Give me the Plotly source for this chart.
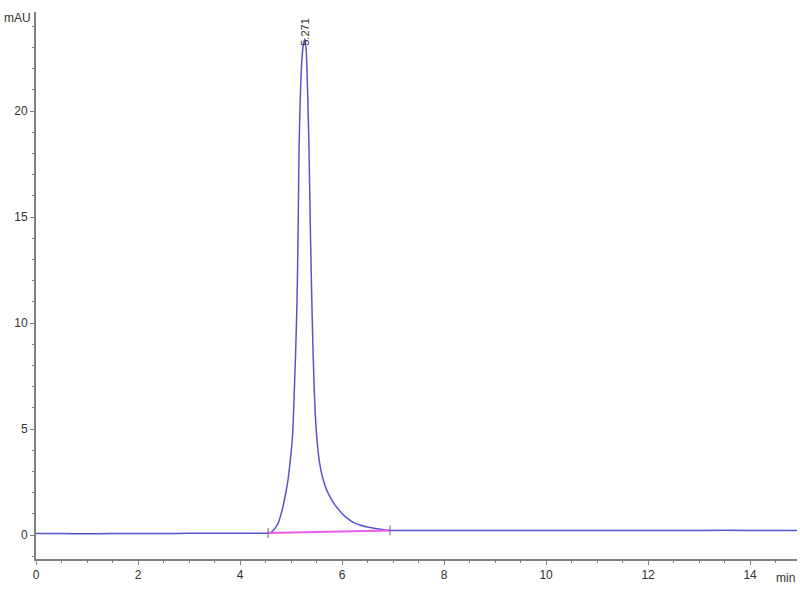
import plotly.graph_objects as go

# Chromatogram trace (retention time in min, absorbance in mAU)
time_min = [0.00, 0.50, 1.00, 1.50, 2.00, 2.50, 3.00, 3.50, 4.00, 4.30, 4.50, 4.55, 4.60, 4.63,
            4.68, 4.75, 4.80, 4.84, 4.89, 4.94, 4.98, 5.01, 5.033, 5.06, 5.09, 5.118, 5.14,
            5.157, 5.18, 5.21, 5.24, 5.271, 5.29, 5.31, 5.333, 5.353, 5.375, 5.395, 5.415,
            5.435, 5.455, 5.475, 5.50, 5.53, 5.56, 5.60, 5.65, 5.70, 5.76, 5.83, 5.90, 6.00,
            6.10, 6.22, 6.35, 6.47, 6.60, 6.75, 6.94, 7.20, 8.00, 9.00, 10.00, 11.00, 12.00,
            13.00, 14.00, 14.92]
absorb_mau = [0.07, 0.07, 0.06, 0.07, 0.07, 0.07, 0.08, 0.08, 0.08, 0.08, 0.09, 0.10, 0.12, 0.16,
              0.30, 0.57, 0.95, 1.32, 1.90, 2.59, 3.40, 4.10, 4.80, 6.50, 8.60, 11.08, 14.50,
              18.16, 20.50, 22.30, 23.10, 23.40, 23.10, 22.20, 20.20, 18.16, 15.00, 12.50, 10.30,
              8.40, 6.90, 5.75, 4.75, 3.95, 3.40, 2.90, 2.45, 2.12, 1.82, 1.53, 1.30, 1.02,
              0.80, 0.60, 0.47, 0.39, 0.33, 0.27, 0.22, 0.21, 0.21, 0.21, 0.22, 0.21, 0.21,
              0.22, 0.22, 0.22]

# Integration baseline of the peak
base_time = [4.55, 6.94]
base_mau = [0.10, 0.22]

peak_time = 5.271
peak_height = 23.4
peak_label = "5.271"

x_ticks = [0, 2, 4, 6, 8, 10, 12, 14]
y_ticks = [0, 5, 10, 15, 20]

font_family = "Liberation Sans Narrow, Liberation Sans, Arial, sans-serif"
axis_color = "#808080"

fig = go.Figure()
fig.add_trace(go.Scatter(x=time_min, y=absorb_mau, mode="lines",
                         line=dict(color="rgb(85,85,210)", width=1.5, shape="spline", smoothing=0.5),
                         hoverinfo="x+y", showlegend=False))
fig.add_trace(go.Scatter(x=base_time, y=base_mau, mode="lines",
                         line=dict(color="rgb(235,90,235)", width=2),
                         showlegend=False))
fig.add_trace(go.Scatter(x=base_time, y=base_mau, mode="markers",
                         marker=dict(symbol="line-ns", size=7, line=dict(color="#606060", width=1)),
                         showlegend=False))

fig.add_annotation(x=peak_time, y=peak_height, text=peak_label, textangle=-90,
                   showarrow=False, xanchor="center", yanchor="bottom", yshift=-9,
                   font=dict(family=font_family, size=11, color="#303030"))
fig.add_annotation(x=0, xref="paper", xanchor="right", xshift=-3,
                   y=1, yref="paper", yanchor="middle", yshift=-6,
                   text="mAU", showarrow=False,
                   font=dict(family=font_family, size=12, color="#303030"))
fig.add_annotation(x=1, xref="paper", xanchor="right", xshift=0,
                   y=0, yref="paper", yanchor="top", yshift=-10,
                   text="min", showarrow=False,
                   font=dict(family=font_family, size=12, color="#303030"))

fig.update_layout(
    width=800, height=600,
    margin=dict(l=36, r=3, t=12, b=41, autoexpand=False),
    plot_bgcolor="white", paper_bgcolor="white",
    font=dict(family=font_family, size=12, color="#303030"),
    xaxis=dict(range=[0, 14.92], tickvals=x_ticks, showgrid=False, zeroline=False,
               automargin=False,
               showline=True, linecolor=axis_color, linewidth=2,
               ticks="outside", ticklen=4, tickcolor=axis_color, tickwidth=1,
               minor=dict(dtick=0.5, tick0=0, ticks="outside", ticklen=2, tickcolor=axis_color),
               tickfont=dict(size=12)),
    yaxis=dict(range=[-1.13, 24.67], tickvals=y_ticks, showgrid=False, zeroline=False,
               automargin=False,
               showline=True, linecolor=axis_color, linewidth=2,
               ticks="outside", ticklen=4, tickcolor=axis_color, tickwidth=1,
               minor=dict(dtick=1, tick0=0, ticks="outside", ticklen=2, tickcolor=axis_color),
               tickfont=dict(size=12)),
)

fig.write_html("out.html", config={"displayModeBar": False},
               post_script="document.body.style.margin='0';document.body.style.overflow='hidden';")
